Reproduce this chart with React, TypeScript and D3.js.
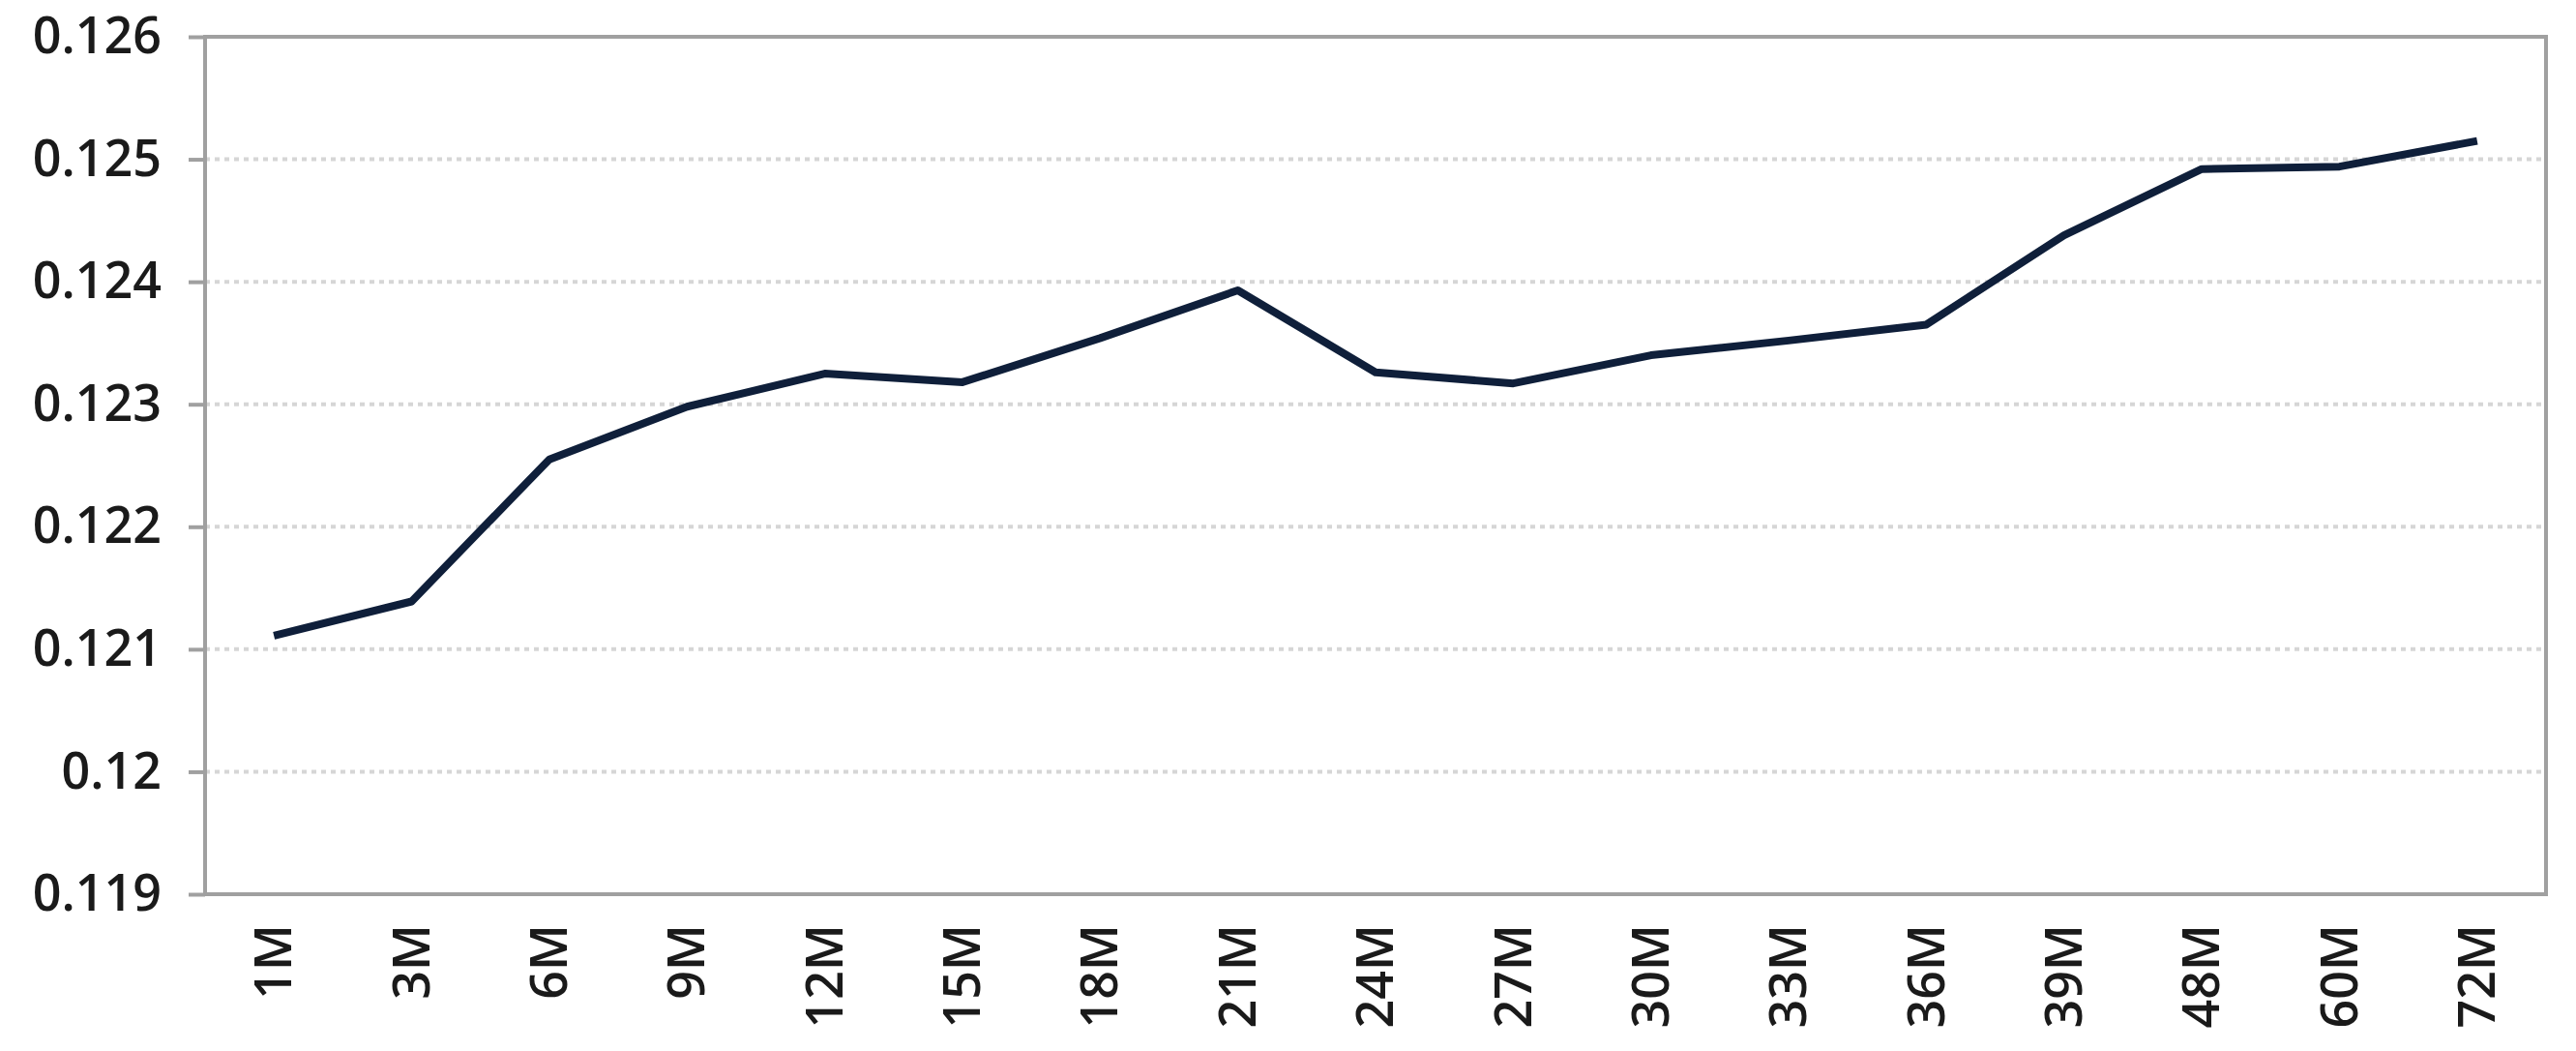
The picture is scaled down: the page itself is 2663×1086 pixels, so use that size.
import { useEffect, useRef } from 'react'
import * as d3 from 'd3'

const categories = ['1M', '3M', '6M', '9M', '12M', '15M', '18M', '21M', '24M', '27M', '30M', '33M', '36M', '39M', '48M', '60M', '72M']
const values = [0.12111, 0.12139, 0.12255, 0.12298, 0.12325, 0.12318, 0.12354, 0.12393, 0.12326, 0.12317, 0.1234, 0.12352, 0.12365, 0.12438, 0.12492, 0.12494, 0.12515]
const yTicks = [0.119, 0.12, 0.121, 0.122, 0.123, 0.124, 0.125, 0.126]

const width = 2663
const height = 1086

export default function App() {
  const svgRef = useRef<SVGSVGElement>(null)

  useEffect(() => {
    if (!svgRef.current) return
    d3.select(svgRef.current).selectAll('*').remove()

    const margin = { top: 38, right: 31, bottom: 162, left: 212 }
    const innerWidth = width - margin.left - margin.right
    const innerHeight = height - margin.top - margin.bottom

    const svg = d3.select(svgRef.current)
      .attr('width', width)
      .attr('height', height)

    svg.append('rect')
      .attr('width', width)
      .attr('height', height)
      .attr('fill', '#ffffff')

    const g = svg.append('g')
      .attr('transform', `translate(${margin.left},${margin.top})`)

    const x = d3.scaleBand<string>()
      .domain(categories)
      .range([0, innerWidth])

    const y = d3.scaleLinear()
      .domain([0.119, 0.126])
      .range([innerHeight, 0])

    const font = '"Open Sans", sans-serif'

    // dotted gridlines
    g.selectAll('.grid')
      .data(yTicks.slice(1, -1))
      .enter().append('line')
      .attr('x1', 0)
      .attr('x2', innerWidth)
      .attr('y1', d => y(d))
      .attr('y2', d => y(d))
      .attr('stroke', '#d6d6d6')
      .attr('stroke-width', 4)
      .attr('stroke-dasharray', '5,5')

    // Y axis with ticks
    const yAxis = g.append('g')
      .call(d3.axisLeft(y).tickValues(yTicks).tickSize(17).tickPadding(28)
        .tickFormat(d => String(+(+d).toFixed(3))))
    yAxis.select('.domain').remove()
    yAxis.selectAll('line')
      .attr('stroke', '#a0a0a0')
      .attr('stroke-width', 4)
    yAxis.selectAll('text')
      .attr('fill', '#1a1a1a')
      .style('font-family', font)
      .style('font-size', '52px')
      .style('font-weight', '600')

    // plot border
    g.append('rect')
      .attr('x', 0)
      .attr('y', 0)
      .attr('width', innerWidth)
      .attr('height', innerHeight)
      .attr('fill', 'none')
      .attr('stroke', '#a0a0a0')
      .attr('stroke-width', 4)

    // X labels (rotated)
    g.selectAll('.xlabel')
      .data(categories)
      .enter().append('text')
      .attr('transform', d => `translate(${(x(d) || 0) + x.bandwidth() / 2},${innerHeight + 31}) rotate(-90)`)
      .attr('text-anchor', 'end')
      .attr('dy', '0.35em')
      .attr('fill', '#1a1a1a')
      .style('font-family', font)
      .style('font-size', '52px')
      .style('font-weight', '600')
      .text(d => d)

    // Line
    const line = d3.line<number>()
      .x((_, i) => (x(categories[i]) || 0) + x.bandwidth() / 2)
      .y(d => y(d))

    g.append('path')
      .datum(values)
      .attr('d', line)
      .attr('fill', 'none')
      .attr('stroke', '#0f1f3a')
      .attr('stroke-width', 8)
      .attr('stroke-linejoin', 'round')
  }, [])

  return <svg ref={svgRef} style={{ position: 'absolute', left: 0, top: 0, display: 'block' }} />
}
